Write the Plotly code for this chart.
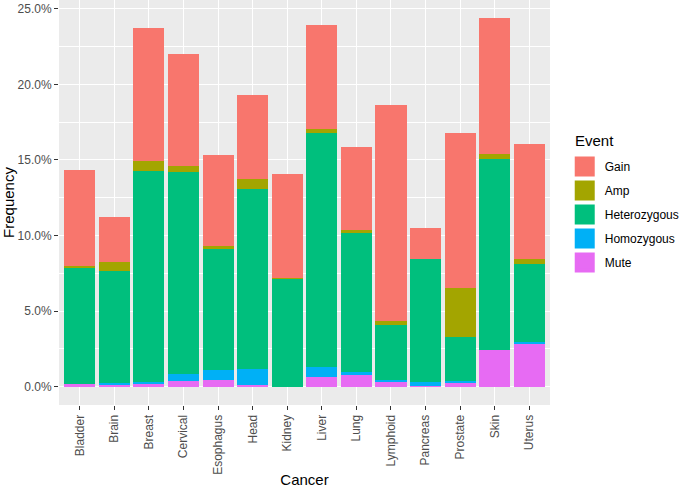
import plotly.graph_objects as go

cancers = ["Bladder", "Brain", "Breast", "Cervical", "Esophagus", "Head", "Kidney",
           "Liver", "Lung", "Lymphoid", "Pancreas", "Prostate", "Skin", "Uterus"]

# frequencies in percent
mute         = [0.17, 0.12, 0.23, 0.36, 0.43, 0.08, 0.00, 0.63, 0.76, 0.34, 0.02, 0.21, 2.44, 2.83]
homozygous   = [0.02, 0.09, 0.07, 0.45, 0.68, 1.08, 0.00, 0.68, 0.22, 0.09, 0.28, 0.15, 0.00, 0.12]
heterozygous = [7.72, 7.44, 13.97, 13.37, 8.02, 11.90, 7.14, 15.46, 9.19, 3.64, 8.14, 2.90, 12.63, 5.14]
amp          = [0.09, 0.57, 0.64, 0.44, 0.15, 0.66, 0.03, 0.30, 0.19, 0.26, 0.00, 3.28, 0.33, 0.35]
gain         = [6.34, 2.98, 8.81, 7.40, 6.02, 5.58, 6.90, 6.85, 5.48, 14.29, 2.08, 10.25, 8.96, 7.64]

y_ticks = [0, 5, 10, 15, 20, 25]
y_tick_labels = ["0.0%", "5.0%", "10.0%", "15.0%", "20.0%", "25.0%"]

series = [
    ("Mute", mute, "#E76BF3"),
    ("Homozygous", homozygous, "#00B0F6"),
    ("Heterozygous", heterozygous, "#00BF7D"),
    ("Amp", amp, "#A3A500"),
    ("Gain", gain, "#F8766D"),
]

fig = go.Figure()
for name, vals, color in series:
    fig.add_trace(go.Bar(
        x=cancers, y=vals, name=name, legendgroup=name, showlegend=False,
        marker=dict(color=color, line=dict(width=0)),
    ))
# legend keys (large squares like ggplot)
for name, vals, color in reversed(series):
    fig.add_trace(go.Scatter(
        x=[None], y=[None], mode="markers", name=name, legendgroup=name,
        marker=dict(symbol="square", size=18, color=color,
                    line=dict(color=color, width=4)),
    ))

font = "Liberation Sans, Arial, sans-serif"
fig.update_layout(
    width=685, height=488,
    barmode="stack", bargap=0.1,
    paper_bgcolor="white", plot_bgcolor="#EBEBEB",
    margin=dict(l=59, r=129, t=0, b=83),
    font=dict(family=font, color="#4D4D4D", size=12),
    legend=dict(
        traceorder="grouped", tracegroupgap=5, itemsizing="trace",
        font=dict(size=12, color="black"),
        x=1.030, xanchor="left", y=0.625, yanchor="top",
        bgcolor="rgba(0,0,0,0)",
    ),
    showlegend=True,
    annotations=[dict(
        text="Event", xref="paper", yref="paper", x=1.046, y=0.654,
        xanchor="left", yanchor="middle", showarrow=False,
        font=dict(size=15, color="black"),
    )],
)
fig.update_xaxes(
    type="category", range=[-0.6, 13.6], automargin=False,
    showgrid=True, gridcolor="white", gridwidth=1.1,
    ticks="outside", ticklen=4, tickcolor="#333333", tickwidth=1,
    tickangle=-90, tickfont=dict(size=12, color="#4D4D4D"),
    title=dict(text="Cancer", font=dict(size=15, color="black"), standoff=4),
    zeroline=False, showline=False,
)
fig.update_yaxes(
    range=[-1.22, 25.58], automargin=False,
    tickvals=y_ticks, ticktext=y_tick_labels,
    showgrid=True, gridcolor="white", gridwidth=1.1,
    minor=dict(dtick=2.5, tick0=0, showgrid=True, gridcolor="white", gridwidth=0.5, ticks=""),
    ticks="outside", ticklen=4, tickcolor="#333333", tickwidth=1,
    tickfont=dict(size=12, color="#4D4D4D"),
    title=dict(text="Frequency", font=dict(size=15, color="black"), standoff=2),
    zeroline=False, showline=False,
)

fig.write_html("out.html", config={"displayModeBar": False},
               post_script="document.body.style.margin='0';")
